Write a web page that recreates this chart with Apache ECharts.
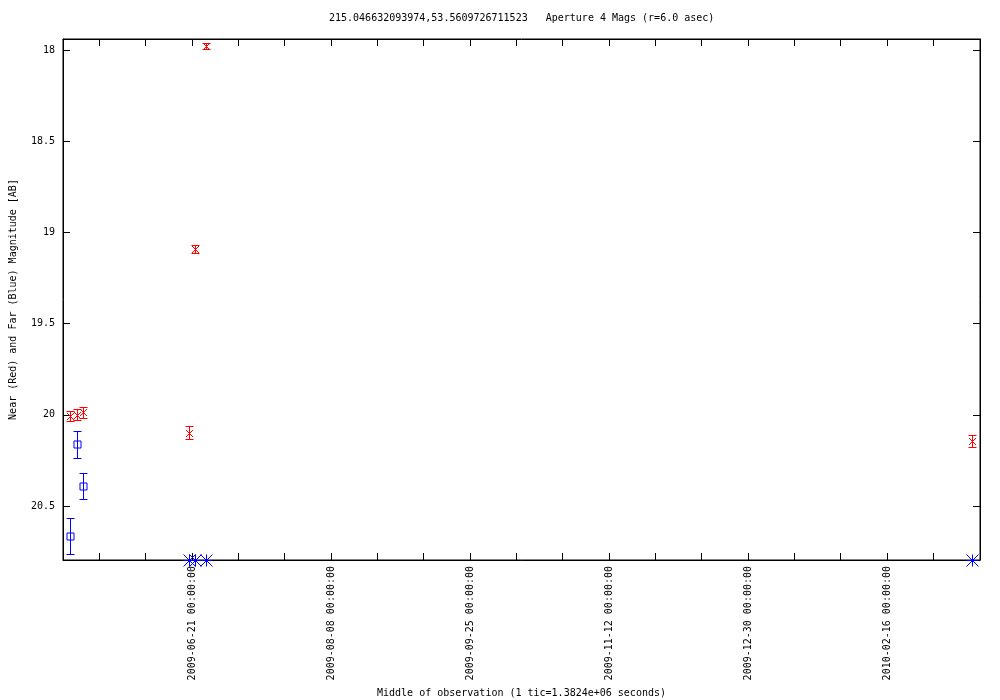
<!DOCTYPE html>
<html>
<head>
<meta charset="utf-8">
<script src="https://cdn.jsdelivr.net/npm/echarts@6/dist/echarts.min.js"></script>
<style>html,body{margin:0;padding:0;background:#fff}#c{width:1000px;height:700px}</style>
</head>
<body>
<div id="c"></div>
<script>
// ---- data ----
const titleText = '215.046632093974,53.5609726711523   Aperture 4 Mags (r=6.0 asec)';
const xAxisTitle = 'Middle of observation (1 tic=1.3824e+06 seconds)';
const yAxisTitle = 'Near (Red) and Far (Blue) Magnitude [AB]';
const axisOrigin = '2009-06-21 00:00';      // a labelled tick
const xStart = '2009-05-07 11:00';
const xEnd = '2010-03-20 02:00';
const xTickDays = [-32, -16, 0, 16, 32, 48, 64, 80, 96, 112, 128, 144, 160, 176, 192, 208, 224, 240, 256, 272];
const xLabelDays = [0, 48, 96, 144, 192, 240];
const yMin = 17.94, yMax = 20.796;
const yTicks = [18, 18.5, 19, 19.5, 20, 20.5];

const nearDates = ['2009-05-09 22:00', '2009-05-12 06:00', '2009-05-14 06:00', '2009-06-20 02:00', '2009-06-22 01:00', '2009-06-25 20:00', '2010-03-17 07:00'];
const nearMag   = [20.007, 19.999, 19.985, 20.098, 19.091, 17.978, 20.144];
const nearErr   = [0.029, 0.029, 0.030, 0.036, 0.020, 0.015, 0.033];

const farDates = ['2009-05-09 22:00', '2009-05-12 06:00', '2009-05-14 06:00'];
const farMag   = [20.664, 20.162, 20.392];
const farErr   = [0.099, 0.075, 0.072];

const farLimitDates = ['2009-06-20 02:00', '2009-06-22 01:00', '2009-06-25 20:00', '2010-03-17 07:00'];
const farLimitMag   = [20.796, 20.796, 20.796, 20.796];

// ---- helpers ----
function toMs(s){ const [d,t]=s.split(' '); const [Y,M,D]=d.split('-').map(Number); const [h,m]=(t||'0:0').split(':').map(Number); return Date.UTC(Y,M-1,D,h,m); }
const origin = toMs(axisOrigin);
const toDays = s => (toMs(s) - origin) / 86400000;
function dayLabel(v){
  const d = new Date(origin + Math.round(v*86400000));
  const p = n => String(n).padStart(2,'0');
  return d.getUTCFullYear()+'-'+p(d.getUTCMonth()+1)+'-'+p(d.getUTCDate())+' '+p(d.getUTCHours())+':'+p(d.getUTCMinutes())+':'+p(d.getUTCSeconds());
}
const nearData = nearDates.map((d,i)=>[toDays(d), nearMag[i], nearErr[i]]);
const farData = farDates.map((d,i)=>[toDays(d), farMag[i], farErr[i]]);
const limitData = farLimitDates.map((d,i)=>[toDays(d), farLimitMag[i]]);

const FONT = 'DejaVu Sans Mono';
const FS = 10;
const RED = '#ff0000', BLUE = '#0000ff';

function seg(x1,y1,x2,y2){ return 'M'+x1+' '+y1+'L'+x2+' '+y2; }
function pathEl(d, color){
  return {type:'path', silent:true, shape:{pathData:d}, style:{stroke:color, fill:'none', lineWidth:1, opacity:1}};
}
function errPath(api){
  const x = api.value(0), y = api.value(1), e = api.value(2);
  const p = api.coord([x,y]);
  const lo = api.coord([x,y-e]);
  const hi = api.coord([x,y+e]);
  const cx = Math.round(p[0]) + 0.5, cy = Math.round(p[1]) + 0.5;
  const cw = 4;
  const ly = Math.round(lo[1]) + 0.5, hy = Math.round(hi[1]) + 0.5;
  return {cx, cy, d: seg(cx,ly,cx,hy) + seg(cx-cw,ly,cx+cw,ly) + seg(cx-cw,hy,cx+cw,hy)};
}

const xMin = toDays(xStart), xMax = toDays(xEnd);
const axisCommon = {
  axisLine:{show:true, onZero:false, lineStyle:{color:'#000', width:1}},
  splitLine:{show:false}
};

const chart = echarts.init(document.getElementById('c'), null, {renderer:'canvas'});
chart.setOption({
  animation:false,
  backgroundColor:'#fff',
  color:[BLUE, RED, BLUE],
  title:{text:titleText, left:329, top:13, padding:0, textStyle:{fontFamily:FONT, fontSize:FS, fontWeight:'normal', color:'#000'}},
  grid:{left:63, right:20, top:39, bottom:140, outerBoundsMode:'none', containLabel:false, show:true, borderColor:'#000', borderWidth:1, backgroundColor:'transparent'},
  xAxis:[Object.assign({}, axisCommon, {
    type:'value', min:xMin, max:xMax, position:'bottom',
    name:xAxisTitle, nameLocation:'middle', nameGap:128,
    nameTextStyle:{fontFamily:FONT, fontSize:FS, color:'#000'},
    axisTick:{show:true, inside:true, length:7, lineStyle:{color:'#000', width:1}, customValues:xTickDays},
    axisLabel:{rotate:90, margin:6, fontFamily:FONT, fontSize:FS, color:'#000', hideOverlap:false,
      customValues:xLabelDays, formatter:v => dayLabel(v)}
  }), Object.assign({}, axisCommon, {
    type:'value', min:xMin, max:xMax, position:'top',
    axisTick:{show:true, inside:true, length:7, lineStyle:{color:'#000', width:1}, customValues:xTickDays},
    axisLabel:{show:false}
  })],
  yAxis:[Object.assign({}, axisCommon, {
    type:'value', min:yMin, max:yMax, inverse:true, position:'left',
    name:yAxisTitle, nameLocation:'middle', nameGap:45, nameRotate:90,
    nameTextStyle:{fontFamily:FONT, fontSize:FS, color:'#000'},
    axisTick:{show:true, inside:true, length:7, lineStyle:{color:'#000', width:1}, customValues:yTicks},
    axisLabel:{margin:8, fontFamily:FONT, fontSize:FS, color:'#000', customValues:yTicks,
      formatter:v => String(+(+v).toFixed(2))}
  }), Object.assign({}, axisCommon, {
    type:'value', min:yMin, max:yMax, inverse:true, position:'right',
    axisTick:{show:true, inside:true, length:7, lineStyle:{color:'#000', width:1}, customValues:yTicks},
    axisLabel:{show:false}
  })],
  series:[
    {type:'custom', name:'far', xAxisIndex:0, yAxisIndex:0, data:farData, clip:false, silent:true,
      itemStyle:{color:BLUE},
      renderItem:(params, api) => {
        const r = errPath(api);
        const sq = 'M'+(r.cx-3.5)+' '+(r.cy-3.5)+'L'+(r.cx+3.5)+' '+(r.cy-3.5)+'L'+(r.cx+3.5)+' '+(r.cy+3.5)+'L'+(r.cx-3.5)+' '+(r.cy+3.5)+'Z';
        return pathEl(r.d + sq, BLUE);
      }},
    {type:'custom', name:'near', xAxisIndex:0, yAxisIndex:0, data:nearData, clip:false, silent:true,
      itemStyle:{color:RED},
      renderItem:(params, api) => {
        const r = errPath(api), m = 3.5;
        return pathEl(r.d + seg(r.cx-m, r.cy-m, r.cx+m, r.cy+m) + seg(r.cx-m, r.cy+m, r.cx+m, r.cy-m), RED);
      }},
    {type:'custom', name:'farLimit', xAxisIndex:0, yAxisIndex:0, data:limitData, clip:false, silent:true,
      itemStyle:{color:BLUE},
      renderItem:(params, api) => {
        const p = api.coord([api.value(0), api.value(1)]);
        const cx = Math.round(p[0])+0.5, cy = Math.round(p[1])+0.5, r = 6;
        return pathEl(seg(cx-r,cy-r,cx+r,cy+r) + seg(cx-r,cy+r,cx+r,cy-r) + seg(cx,cy-r,cx,cy+r) + seg(cx-r,cy,cx+r,cy), BLUE);
      }}
  ]
});
</script>
</body>
</html>
